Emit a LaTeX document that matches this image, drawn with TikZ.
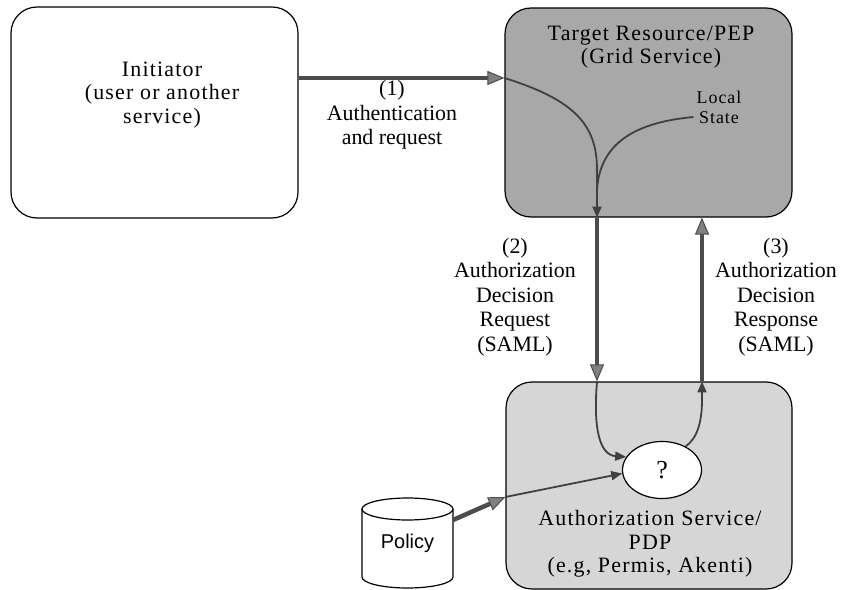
\documentclass[tikz,border=0pt]{standalone}
\usepackage{fontspec}
\setmainfont{Liberation Serif}
\newfontfamily\sansfont{Liberation Sans}
\newfontfamily\trackedfont[LetterSpace=5.5]{Liberation Serif}
\usetikzlibrary{arrows.meta,shapes.geometric}
\definecolor{pepfill}{HTML}{A8A8A8}
\definecolor{pdpfill}{HTML}{D6D6D6}

\begin{document}
\begin{tikzpicture}[x=1bp,y=-1bp,
  box/.style={draw=black, line width=1.2bp, rounded corners=26bp, inner sep=0pt},
  boxtext/.style={font=\trackedfont\fontsize{22}{23.5}\selectfont, align=center, inner sep=0pt},
  labeltext/.style={font=\fontsize{22}{24.5}\selectfont, align=center, inner sep=0pt},
  fat/.style={draw=black!70, line width=4.5bp,
    -{Triangle[length=17bp,width=14bp,line width=1bp,fill=black!50]}},
  slim/.style={draw=black!75, line width=1.8bp},
  slimarrow/.style={slim, -{Triangle[length=11bp,width=9bp]}}]

\useasboundingbox (0,0) rectangle (843,590);
\fill[white] (0,0) rectangle (843,590);

% the three parties
\node[box, fill=white, minimum width=287bp, minimum height=211bp] (init) at (154.5,112.5) {};
\node[box, fill=pepfill, minimum width=287bp, minimum height=209bp] (pep) at (648.5,112.5) {};
\node[box, fill=pdpfill, minimum width=286bp, minimum height=207bp] (pdp) at (649,485.5) {};

\node[boxtext] (initText) at (162,95) {Initiator\\(user or another\\service)};
\node[boxtext] (pepText) at (651,47) {Target Resource/PEP\\(Grid Service)};
\node[boxtext, font=\trackedfont\fontsize{18}{20}\selectfont] (local) at (719,107) {Local\\State};
\node[boxtext] (pdpText) at (650,544) {Authorization Service/\\PDP\\(e.g, Permis, Akenti)};

% decision point
\node[ellipse, draw, fill=white, line width=1.2bp, minimum width=79bp, minimum height=57bp,
      inner sep=0pt, font=\fontsize{26}{26}\selectfont] (q) at (662,470) {?};

% policy store
\draw[line width=1.2bp, fill=white] (362,509) -- (362,577)
  arc[start angle=180, end angle=360, x radius=45.5bp, y radius=11bp] -- (453,509)
  arc[start angle=0, end angle=180, x radius=45.5bp, y radius=11bp] -- cycle;
\draw[line width=1.2bp] (362,509) arc[start angle=180, end angle=360, x radius=45.5bp, y radius=11bp];
\node[font=\sansfont\fontsize{20}{20}\selectfont] (policy) at (407.5,543) {Policy};

% message labels
\node[labeltext] (lab1) at (392,115) {(1)\\Authentication\\and request};
\node[labeltext] (lab2) at (515,297) {(2)\\Authorization\\Decision\\Request\\(SAML)};
\node[labeltext] (lab3) at (776,297) {(3)\\Authorization\\Decision\\Response\\(SAML)};

% attachment points on the box borders
\coordinate (in1) at (pep.west |- 0,78);
\coordinate (reqTop) at (pep.south -| 597,0);
\coordinate (reqBot) at (pdp.north -| 597,0);
\coordinate (respTop) at (pep.south -| 702,0);
\coordinate (respBot) at (pdp.north -| 702,0);
\coordinate (polIn) at (pdp.west |- 0,497);
\coordinate (polOut) at (453,520);

% (1) authentication and request
\draw[fat] (init.east |- in1) -- (in1);
\draw[slimarrow] (in1) .. controls (575,100) and (597,125) .. (597,170) -- (reqTop);
\draw[slim] ([xshift=-3bp,yshift=-10bp]local.west) .. controls (640,122) and (600,140) .. (597,190);

% (2) decision request
\draw[fat] (reqTop) -- (reqBot);
\draw[slimarrow] (reqBot) .. controls (593,430) and (600,455) .. (q.160);

% (3) decision response
\draw[slimarrow] (q.45) .. controls (698,438) and (702,420) .. (702,400) -- (respBot);
\draw[fat] (respBot) -- (respTop);

% policy input
\draw[fat] (polOut) -- (polIn);
\draw[slimarrow] (polIn) -- (q.185);
\end{tikzpicture}
\end{document}
